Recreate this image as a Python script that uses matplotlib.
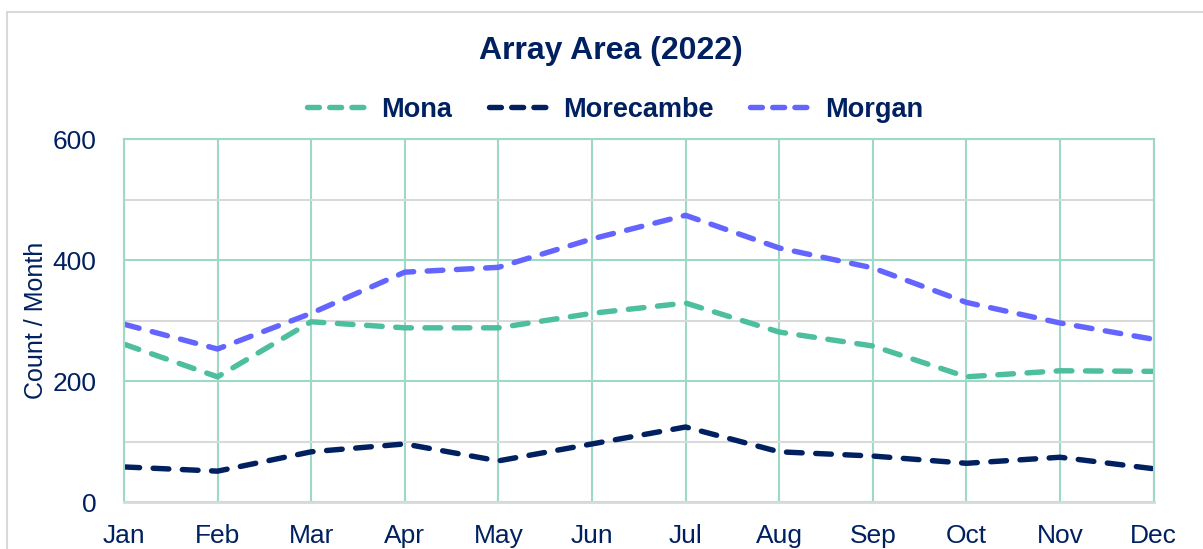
import matplotlib
matplotlib.use('Agg')
from matplotlib import pyplot as plt
from matplotlib.patches import Rectangle

months = ['Jan', 'Feb', 'Mar', 'Apr', 'May', 'Jun',
          'Jul', 'Aug', 'Sep', 'Oct', 'Nov', 'Dec']
mona = [261, 207, 298, 288, 288, 312, 329, 281, 258, 207, 217, 216]
morecambe = [58, 51, 83, 96, 68, 96, 124, 83, 76, 64, 74, 55]
morgan = [294, 253, 312, 380, 388, 435, 474, 420, 387, 330, 296, 269]

navy = '#002060'
teal_grid = '#9ED9C8'
gray_grid = '#D9D9D9'

plt.rcParams['font.family'] = ['Liberation Sans', 'DejaVu Sans']

fig = plt.figure(figsize=(12.03, 5.49), dpi=100)
ax = fig.add_axes([0.103, 0.0856, 0.856, 0.661])

series = [('Mona', mona, '#4DBE9E'),
          ('Morecambe', morecambe, navy),
          ('Morgan', morgan, '#6464FF')]
for name, vals, col in series:
    ax.plot(range(len(months)), vals, color=col, lw=3.9,
            dashes=(2.9, 2.5), dash_capstyle='round', label=name)

ax.set_xlim(0, len(months) - 1)
ax.set_ylim(0, 600)
ax.set_xticks(range(len(months)))
ax.set_xticklabels(months)
ax.set_yticks([0, 200, 400, 600])
ax.set_yticks([100, 300, 500], minor=True)
ax.tick_params(which='both', length=0, labelsize=19, colors=navy)
ax.tick_params(axis='x', pad=16)
ax.tick_params(axis='y', pad=20)

# grid: months and major y in teal, minor y in gray
ax.grid(axis='x', color=teal_grid, lw=1.5)
ax.grid(axis='y', which='major', color=teal_grid, lw=1.5)
ax.grid(axis='y', which='minor', color=gray_grid, lw=1.5)
ax.set_axisbelow(True)
for s in ['left', 'right', 'top']:
    ax.spines[s].set_color(teal_grid)
    ax.spines[s].set_linewidth(1.5)
ax.spines['bottom'].set_color(gray_grid)
ax.spines['bottom'].set_linewidth(2)

ax.set_ylabel('Count / Month', fontsize=18, color=navy, labelpad=3)

fig.text(0.508, 0.908, 'Array Area (2022)', ha='center', va='center',
         fontsize=23, fontweight='bold', color=navy)
leg = fig.legend(loc='center', bbox_to_anchor=(0.511, 0.80), ncol=3,
                 frameon=False, handlelength=2.3, handletextpad=0.45,
                 columnspacing=1.35, prop={'size': 19.5, 'weight': 'bold'})
for t in leg.get_texts():
    t.set_color(navy)
# three short dashes per legend handle
for ln in leg.get_lines():
    ln.set_dashes((2.2, 1.9))

# light border around the chart area
fig.patches.append(Rectangle((7 / 1203, -0.1), 1.2, 1.1 - 12 / 549,
                             transform=fig.transFigure, fill=False,
                             edgecolor=gray_grid, lw=1.5))

fig.savefig('out.png', dpi=100)
